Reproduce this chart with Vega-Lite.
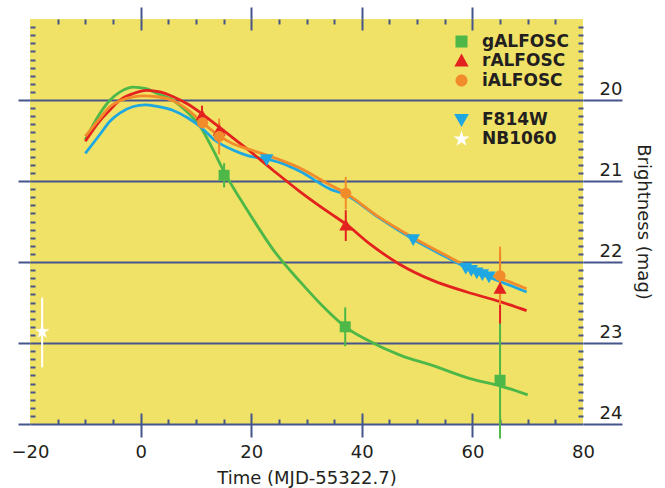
{
  "$schema": "https://vega.github.io/schema/vega-lite/v6.json",
  "width": 553,
  "height": 405,
  "autosize": "none",
  "padding": {"left": 30, "top": 19, "right": 82, "bottom": 64},
  "background": "white",
  "config": {
    "font": "DejaVu Sans",
    "view": {"fill": "#f0e266", "stroke": null},
    "axis": {
      "tickColor": "#45548a", "tickWidth": 2, "gridColor": "#45548a", "gridWidth": 2, "gridOpacity": 1,
      "domain": false, "grid": false, "labelColor": "#231f20", "titleColor": "#231f20",
      "labelFontSize": 18, "titleFontSize": 18, "labelFontWeight": "normal", "titleFontWeight": "normal",
      "labelOverlap": false, "labelBound": false, "labelFlush": false
    }
  },
  "datasets": {
    "curves": [
      {"filter": "gALFOSC", "t": -10, "m": 20.49}, {"filter": "gALFOSC", "t": -7.3, "m": 20.16}, {"filter": "gALFOSC", "t": -5.5, "m": 20.0},
      {"filter": "gALFOSC", "t": -3.7, "m": 19.9}, {"filter": "gALFOSC", "t": -1.3, "m": 19.84}, {"filter": "gALFOSC", "t": 1, "m": 19.86},
      {"filter": "gALFOSC", "t": 3, "m": 19.92}, {"filter": "gALFOSC", "t": 5.8, "m": 20.0}, {"filter": "gALFOSC", "t": 8, "m": 20.12},
      {"filter": "gALFOSC", "t": 10.8, "m": 20.33}, {"filter": "gALFOSC", "t": 13, "m": 20.6}, {"filter": "gALFOSC", "t": 15.2, "m": 20.9},
      {"filter": "gALFOSC", "t": 18, "m": 21.22}, {"filter": "gALFOSC", "t": 20.4, "m": 21.48}, {"filter": "gALFOSC", "t": 24, "m": 21.85},
      {"filter": "gALFOSC", "t": 28.8, "m": 22.24}, {"filter": "gALFOSC", "t": 33, "m": 22.55}, {"filter": "gALFOSC", "t": 37, "m": 22.8},
      {"filter": "gALFOSC", "t": 40.9, "m": 22.96}, {"filter": "gALFOSC", "t": 46.9, "m": 23.15}, {"filter": "gALFOSC", "t": 52.9, "m": 23.28},
      {"filter": "gALFOSC", "t": 59.6, "m": 23.44}, {"filter": "gALFOSC", "t": 65, "m": 23.53}, {"filter": "gALFOSC", "t": 70, "m": 23.64},
      {"filter": "rALFOSC", "t": -10, "m": 20.51}, {"filter": "rALFOSC", "t": -7.3, "m": 20.25}, {"filter": "rALFOSC", "t": -5.5, "m": 20.12},
      {"filter": "rALFOSC", "t": -3.7, "m": 20.0}, {"filter": "rALFOSC", "t": -1.3, "m": 19.92}, {"filter": "rALFOSC", "t": 1.1, "m": 19.88},
      {"filter": "rALFOSC", "t": 3.5, "m": 19.9}, {"filter": "rALFOSC", "t": 5.9, "m": 19.96}, {"filter": "rALFOSC", "t": 8.5, "m": 20.05},
      {"filter": "rALFOSC", "t": 11.1, "m": 20.17}, {"filter": "rALFOSC", "t": 15.6, "m": 20.41}, {"filter": "rALFOSC", "t": 19.2, "m": 20.6},
      {"filter": "rALFOSC", "t": 24, "m": 20.87}, {"filter": "rALFOSC", "t": 28.8, "m": 21.13}, {"filter": "rALFOSC", "t": 34.3, "m": 21.4},
      {"filter": "rALFOSC", "t": 37.1, "m": 21.53}, {"filter": "rALFOSC", "t": 41.5, "m": 21.78}, {"filter": "rALFOSC", "t": 46.9, "m": 22.03},
      {"filter": "rALFOSC", "t": 52.9, "m": 22.23}, {"filter": "rALFOSC", "t": 59, "m": 22.37}, {"filter": "rALFOSC", "t": 65, "m": 22.49},
      {"filter": "rALFOSC", "t": 69.8, "m": 22.6},
      {"filter": "iALFOSC", "t": -10, "m": 20.45}, {"filter": "iALFOSC", "t": -7.3, "m": 20.22}, {"filter": "iALFOSC", "t": -5.5, "m": 20.08},
      {"filter": "iALFOSC", "t": -3.7, "m": 20.01}, {"filter": "iALFOSC", "t": -1.3, "m": 19.96}, {"filter": "iALFOSC", "t": 0.5, "m": 19.95},
      {"filter": "iALFOSC", "t": 3, "m": 19.96}, {"filter": "iALFOSC", "t": 5.9, "m": 20.01}, {"filter": "iALFOSC", "t": 8.5, "m": 20.12},
      {"filter": "iALFOSC", "t": 11.2, "m": 20.28}, {"filter": "iALFOSC", "t": 14.2, "m": 20.44}, {"filter": "iALFOSC", "t": 17, "m": 20.55},
      {"filter": "iALFOSC", "t": 19.2, "m": 20.6}, {"filter": "iALFOSC", "t": 22.8, "m": 20.68}, {"filter": "iALFOSC", "t": 28.8, "m": 20.84},
      {"filter": "iALFOSC", "t": 34.3, "m": 21.05}, {"filter": "iALFOSC", "t": 37.1, "m": 21.15}, {"filter": "iALFOSC", "t": 43, "m": 21.44},
      {"filter": "iALFOSC", "t": 49.3, "m": 21.7}, {"filter": "iALFOSC", "t": 55, "m": 21.91}, {"filter": "iALFOSC", "t": 59, "m": 22.05},
      {"filter": "iALFOSC", "t": 65, "m": 22.2}, {"filter": "iALFOSC", "t": 69.8, "m": 22.33},
      {"filter": "F814W", "t": -10, "m": 20.66}, {"filter": "F814W", "t": -7.3, "m": 20.42}, {"filter": "F814W", "t": -5.5, "m": 20.26},
      {"filter": "F814W", "t": -3.7, "m": 20.16}, {"filter": "F814W", "t": -1.3, "m": 20.08}, {"filter": "F814W", "t": 0.8, "m": 20.06},
      {"filter": "F814W", "t": 3, "m": 20.08}, {"filter": "F814W", "t": 5.9, "m": 20.13}, {"filter": "F814W", "t": 8.5, "m": 20.22},
      {"filter": "F814W", "t": 10.8, "m": 20.33}, {"filter": "F814W", "t": 13.5, "m": 20.5}, {"filter": "F814W", "t": 16.8, "m": 20.62},
      {"filter": "F814W", "t": 19.5, "m": 20.69}, {"filter": "F814W", "t": 22.8, "m": 20.73}, {"filter": "F814W", "t": 25.5, "m": 20.78},
      {"filter": "F814W", "t": 28.8, "m": 20.88}, {"filter": "F814W", "t": 34.3, "m": 21.1}, {"filter": "F814W", "t": 37.1, "m": 21.17},
      {"filter": "F814W", "t": 43, "m": 21.45}, {"filter": "F814W", "t": 49.3, "m": 21.72}, {"filter": "F814W", "t": 55, "m": 21.93},
      {"filter": "F814W", "t": 59.6, "m": 22.09}, {"filter": "F814W", "t": 65, "m": 22.24}, {"filter": "F814W", "t": 69.8, "m": 22.37}
    ],
    "points": [
      {"filter": "gALFOSC", "t": 15.1, "m": 20.93, "lo": 20.78, "hi": 21.08},
      {"filter": "gALFOSC", "t": 37.0, "m": 22.8, "lo": 22.56, "hi": 23.04},
      {"filter": "gALFOSC", "t": 65.0, "m": 23.46, "lo": 22.74, "hi": 24.18},
      {"filter": "rALFOSC", "t": 11.1, "m": 20.19, "lo": 20.07, "hi": 20.31},
      {"filter": "rALFOSC", "t": 14.2, "m": 20.38, "lo": 20.28, "hi": 20.48},
      {"filter": "rALFOSC", "t": 37.1, "m": 21.55, "lo": 21.36, "hi": 21.74},
      {"filter": "rALFOSC", "t": 65.0, "m": 22.33, "lo": 21.9, "hi": 22.76},
      {"filter": "iALFOSC", "t": 11.2, "m": 20.28, "lo": 20.21, "hi": 20.35},
      {"filter": "iALFOSC", "t": 14.2, "m": 20.45, "lo": 20.23, "hi": 20.67},
      {"filter": "iALFOSC", "t": 37.1, "m": 21.15, "lo": 20.95, "hi": 21.35},
      {"filter": "iALFOSC", "t": 65.0, "m": 22.17, "lo": 21.81, "hi": 22.53},
      {"filter": "F814W", "t": 22.8, "m": 20.73, "lo": 20.73, "hi": 20.73},
      {"filter": "F814W", "t": 49.3, "m": 21.72, "lo": 21.72, "hi": 21.72},
      {"filter": "F814W", "t": 58.8, "m": 22.07, "lo": 22.07, "hi": 22.07},
      {"filter": "F814W", "t": 59.8, "m": 22.1, "lo": 22.1, "hi": 22.1},
      {"filter": "F814W", "t": 60.8, "m": 22.13, "lo": 22.13, "hi": 22.13},
      {"filter": "F814W", "t": 61.8, "m": 22.15, "lo": 22.15, "hi": 22.15},
      {"filter": "F814W", "t": 63.0, "m": 22.18, "lo": 22.18, "hi": 22.18},
      {"filter": "NB1060", "t": -17.8, "m": 22.86, "lo": 22.44, "hi": 23.3}
    ]
  },
  "layer": [
    {
      "data": {"name": "curves"},
      "transform": [{"filter": "datum.filter === 'gALFOSC' || datum.filter === 'F814W'"}],
      "mark": {"type": "line", "strokeWidth": 2.8, "interpolate": "monotone"},
      "encoding": {
        "x": {"field": "t", "type": "quantitative", "scale": {"domain": [-20, 80], "nice": false, "zero": false},
          "axis": {"orient": "top", "values": [-15, -10, -5, 0, 5, 10, 15, 20, 25, 30, 35, 40, 45, 50, 55, 60, 65, 70, 75],
            "tickSize": {"condition": {"test": "datum.value % 20 === 0", "value": -11}, "value": -5},
            "labels": false, "title": null}},
        "y": {"field": "m", "type": "quantitative", "scale": {"domain": [19, 24], "reverse": true, "nice": false, "zero": false},
          "axis": {"orient": "right", "values": [19.1, 19.2, 19.3, 19.4, 19.5, 19.6, 19.7, 19.8, 19.9, 20.1, 20.2, 20.3, 20.4, 20.5, 20.6, 20.7, 20.8, 20.9, 21.1, 21.2, 21.3, 21.4, 21.5, 21.6, 21.7, 21.8, 21.9, 22.1, 22.2, 22.3, 22.4, 22.5, 22.6, 22.7, 22.8, 22.9, 23.1, 23.2, 23.3, 23.4, 23.5, 23.6, 23.7, 23.8, 23.9],
            "tickSize": -5, "labels": false, "title": null}},
        "color": {"field": "filter", "type": "nominal", "legend": null,
          "scale": {"domain": ["gALFOSC", "rALFOSC", "iALFOSC", " ", "F814W", "NB1060"],
            "range": ["#4db848", "#e3221f", "#f28c2b", "rgba(0,0,0,0)", "#1ea7e1", "#ffffff"]}}
      }
    },
    {
      "data": {"name": "curves"},
      "transform": [{"filter": "datum.filter === 'iALFOSC' || datum.filter === 'rALFOSC'"}],
      "mark": {"type": "line", "strokeWidth": 2.8, "interpolate": "monotone"},
      "encoding": {
        "x": {"field": "t", "type": "quantitative", "scale": {"domain": [-20, 80], "nice": false, "zero": false},
          "axis": {"orient": "bottom", "values": [-15, -10, -5, 0, 5, 10, 15, 20, 25, 30, 35, 40, 45, 50, 55, 60, 65, 70, 75],
            "tickSize": {"condition": {"test": "datum.value % 20 === 0", "value": -11}, "value": -5},
            "labels": false, "title": null}},
        "y": {"field": "m", "type": "quantitative", "scale": {"domain": [19, 24], "reverse": true, "nice": false, "zero": false},
          "axis": {"orient": "left", "values": [19.1, 19.2, 19.3, 19.4, 19.5, 19.6, 19.7, 19.8, 19.9, 20.1, 20.2, 20.3, 20.4, 20.5, 20.6, 20.7, 20.8, 20.9, 21.1, 21.2, 21.3, 21.4, 21.5, 21.6, 21.7, 21.8, 21.9, 22.1, 22.2, 22.3, 22.4, 22.5, 22.6, 22.7, 22.8, 22.9, 23.1, 23.2, 23.3, 23.4, 23.5, 23.6, 23.7, 23.8, 23.9],
            "tickSize": -5, "labels": false, "title": null}},
        "color": {"field": "filter", "type": "nominal", "legend": null,
          "scale": {"domain": ["gALFOSC", "rALFOSC", "iALFOSC", " ", "F814W", "NB1060"],
            "range": ["#4db848", "#e3221f", "#f28c2b", "rgba(0,0,0,0)", "#1ea7e1", "#ffffff"]}}
      }
    },
    {
      "data": {"name": "points"},
      "mark": {"type": "rule", "strokeWidth": 2},
      "encoding": {
        "x": {"field": "t", "type": "quantitative", "scale": {"domain": [-20, 80], "nice": false, "zero": false},
          "axis": {"orient": "bottom", "values": [-20, 0, 20, 40, 60, 80], "tickSize": 13,
            "tickOpacity": {"condition": {"test": "datum.value < -10 || datum.value > 70", "value": 0}, "value": 1},
            "labelPadding": 6, "title": "Time (MJD-55322.7)", "titlePadding": 8}},
        "y": {"field": "lo", "type": "quantitative", "scale": {"domain": [19, 24], "reverse": true, "nice": false, "zero": false},
          "axis": {"orient": "right", "values": [20, 21, 22, 23, 24], "tickSize": 39, "grid": true,
            "labelAlign": "right", "labelBaseline": "bottom", "labelPadding": 0, "labelOffset": -2,
            "title": "Brightness (mag)", "titleAngle": 90, "titlePadding": 10}},
        "y2": {"field": "hi"},
        "color": {"field": "filter", "type": "nominal", "legend": null,
          "scale": {"domain": ["gALFOSC", "rALFOSC", "iALFOSC", " ", "F814W", "NB1060"],
            "range": ["#4db848", "#e3221f", "#f28c2b", "rgba(0,0,0,0)", "#1ea7e1", "#ffffff"]}}
      }
    },
    {
      "data": {"name": "points"},
      "mark": {"type": "point", "filled": true, "opacity": 1, "strokeWidth": 0, "size": 100},
      "encoding": {
        "x": {"field": "t", "type": "quantitative", "scale": {"domain": [-20, 80], "nice": false, "zero": false},
          "axis": {"orient": "top", "values": [0, 20, 40, 60], "tickSize": 12, "labels": false, "title": null}},
        "y": {"field": "m", "type": "quantitative", "scale": {"domain": [19, 24], "reverse": true, "nice": false, "zero": false},
          "axis": {"orient": "left", "values": [20, 21, 22, 23, 24], "tickSize": 12, "labels": false, "title": null}},
        "color": {"field": "filter", "type": "nominal",
          "scale": {"domain": ["gALFOSC", "rALFOSC", "iALFOSC", " ", "F814W", "NB1060"],
            "range": ["#4db848", "#e3221f", "#f28c2b", "rgba(0,0,0,0)", "#1ea7e1", "#ffffff"]},
          "legend": {"orient": "none", "legendX": 423, "legendY": 14, "title": null, "padding": 0,
            "symbolSize": 120, "symbolStrokeWidth": 0, "labelFont": "DejaVu Sans", "labelFontSize": 17, "labelFontWeight": "bold",
            "labelColor": "#231f20", "labelOffset": 12, "rowPadding": 1.5}},
        "shape": {"field": "filter", "type": "nominal",
          "scale": {"domain": ["gALFOSC", "rALFOSC", "iALFOSC", " ", "F814W", "NB1060"],
            "range": ["M-1.1,-1.1L1.1,-1.1L1.1,1.1L-1.1,1.1Z", "M0,-1.35L1.3,1L-1.3,1Z", "M-1.1,0A1.1,1.1,0,1,0,1.1,0A1.1,1.1,0,1,0,-1.1,0Z", "M-1,0A1,1,0,1,0,1,0A1,1,0,1,0,-1,0Z", "M0,1.35L1.35,-1L-1.35,-1Z", "M0,-1.55L0.348,-0.479L1.474,-0.479L0.563,0.183L0.911,1.254L0,0.592L-0.911,1.254L-0.563,0.183L-1.474,-0.479L-0.348,-0.479Z"]},
          "legend": {"orient": "none", "legendX": 423, "legendY": 14, "title": null, "padding": 0,
            "symbolSize": 120, "symbolStrokeWidth": 0, "labelFont": "DejaVu Sans", "labelFontSize": 17, "labelFontWeight": "bold",
            "labelColor": "#231f20", "labelOffset": 12, "rowPadding": 1.5}}
      }
    }
  ],
  "resolve": {"axis": {"x": "independent", "y": "independent"}, "legend": {"color": "independent", "shape": "independent"}}
}
